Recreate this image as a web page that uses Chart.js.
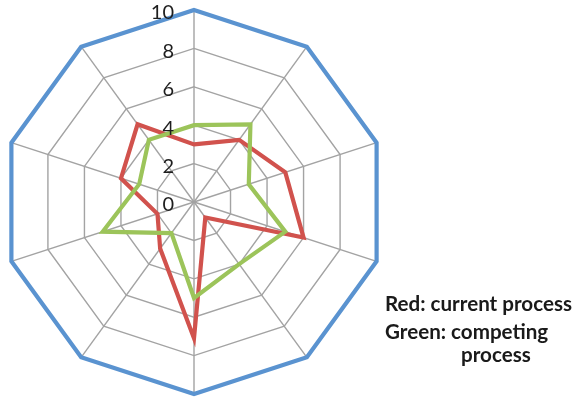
<!DOCTYPE html>
<html>
<head>
<meta charset="utf-8">
<script src="https://cdn.jsdelivr.net/npm/chart.js@4/dist/chart.umd.min.js"></script>
<style>
  html, body { margin: 0; padding: 0; background: #ffffff; }
  #wrap { position: relative; width: 581px; height: 399px; overflow: hidden; }
  #chart { position: absolute; left: 0; top: 0; }
  .note {
    position: absolute;
    font-family: Lato, "Open Sans", sans-serif;
    font-weight: 700;
    font-size: 20.6px;
    color: #1a1a1a;
    white-space: nowrap;
    line-height: 1;
  }
</style>
</head>
<body>
<div id="wrap">
  <canvas id="chart" width="581" height="399"></canvas>
  <div class="note" style="left:385px; top:293px;">Red: current process</div>
  <div class="note" style="left:385px; top:321px;">Green: competing</div>
  <div class="note" style="left:461px; top:344px;">process</div>
</div>
<script>
// Ten criteria around the radar, scored 0–10
const categories = ['1', '2', '3', '4', '5', '6', '7', '8', '9', '10'];
const currentProcess   = [3, 4, 5, 6, 1, 7.1, 3, 2, 4, 5];
const competingProcess = [4, 5, 3, 5, 4, 5, 2, 5, 3, 4];
const maximumScore     = [10, 10, 10, 10, 10, 10, 10, 10, 10, 10];
const tickValues = [0, 2, 4, 6, 8, 10];

// Scale values written just left of the vertical spoke
const tickLabelPlugin = {
  id: 'tickLabels',
  afterDatasetsDraw(chart) {
    const scale = chart.scales.r;
    const ctx = chart.ctx;
    ctx.save();
    ctx.font = '20px Lato, "Open Sans", sans-serif';
    ctx.fillStyle = '#1e1e1e';
    ctx.textAlign = 'right';
    ctx.textBaseline = 'middle';
    tickValues.forEach(v => {
      const p = scale.getPointPositionForValue(0, v);
      ctx.fillText(String(v), p.x - 20, p.y + 3);
    });
    ctx.restore();
  }
};

new Chart(document.getElementById('chart'), {
  type: 'radar',
  data: {
    labels: categories,
    datasets: [
      {
        label: 'Green: competing process',
        data: competingProcess,
        borderColor: '#9cc45a',
        borderWidth: 4.2,
        fill: false
      },
      {
        label: 'Red: current process',
        data: currentProcess,
        borderColor: '#d1524d',
        borderWidth: 4.2,
        fill: false
      },
      {
        label: 'Maximum',
        data: maximumScore,
        borderColor: '#5a93d0',
        borderWidth: 4.2,
        fill: false
      }
    ]
  },
  options: {
    responsive: false,
    animation: false,
    devicePixelRatio: 1,
    layout: { padding: { left: 2, right: 195, top: 10, bottom: 5 } },
    elements: {
      point: { radius: 0, hoverRadius: 0 },
      line: { tension: 0, borderJoinStyle: 'miter' }
    },
    plugins: {
      legend: { display: false },
      tooltip: { enabled: false }
    },
    scales: {
      r: {
        min: 0,
        max: 10,
        startAngle: 0,
        ticks: { display: false, stepSize: 2 },
        pointLabels: { display: false },
        grid: { color: '#a3a3a3', lineWidth: 1.4 },
        angleLines: { color: '#a3a3a3', lineWidth: 1.4 }
      }
    }
  },
  plugins: [tickLabelPlugin]
});
</script>
</body>
</html>
